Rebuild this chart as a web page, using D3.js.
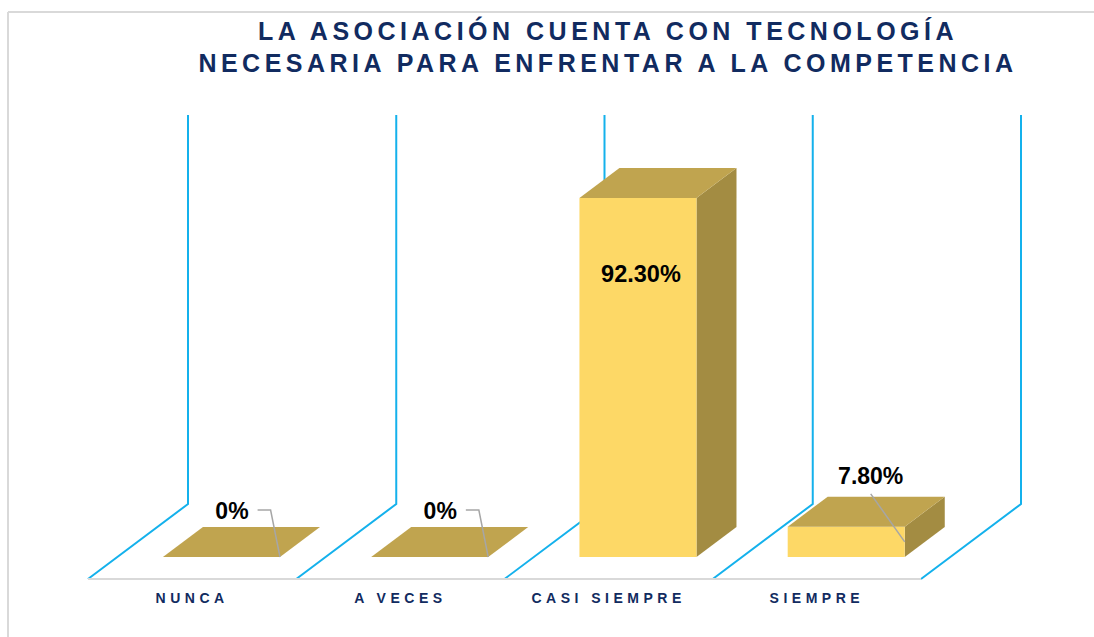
<!DOCTYPE html>
<html>
<head>
<meta charset="utf-8">
<script src="https://cdn.jsdelivr.net/npm/d3@7"></script>
<style>
  html, body { margin: 0; padding: 0; background: #ffffff; }
  svg { display: block; }
</style>
</head>
<body>
<svg id="chart" width="1094" height="637"></svg>
<script>
// ---------------- DATA ----------------
const titleLines = ["LA ASOCIACIÓN CUENTA CON TECNOLOGÍA", "NECESARIA PARA ENFRENTAR A LA COMPETENCIA"];
const categories = ["NUNCA", "A VECES", "CASI SIEMPRE", "SIEMPRE"];
const values = [0, 0, 92.3, 7.8];
const valueLabels = ["0%", "0%", "92.30%", "7.80%"];

// ---------------- LAYOUT / STYLE ----------------
const W = 1094, H = 637;
const backLeft = 188, backRight = 1021;  // back wall x extent
const backBase = 504, backTop = 115;     // back wall baseline and 100% line
const depthDX = -100, depthDY = 75;      // full floor depth offset (oblique)
const barFront = 53 / 75, barBack = 23 / 75; // bar depth fractions (0 = back wall, 1 = front edge)
const colFront = "#fdd866", colTop = "#c0a44f", colSide = "#a38c42";
const cyan = "#14b1ec", frameGray = "#d9d9d9", navy = "#112b60";
// label placement per bar: mode and offsets relative to anchor
const labelStyle = [
  { mode: "side", dx: -48, dy: -38 },
  { mode: "side", dx: -48, dy: -38 },
  { mode: "inside", dx: 0, dy: 84 },
  { mode: "above", dx: -34, dy: -58 }
];

const svg = d3.select("#chart");

// scales
const xGrid = d3.scaleBand().domain(categories).range([backLeft, backRight]).paddingInner(0).paddingOuter(0);
const xBar = d3.scaleBand().domain(categories).range([backLeft, backRight])
  .paddingInner(0.438).paddingOuter(0.219).align(0.5);
const y = d3.scaleLinear().domain([0, 100]).range([backBase, backTop]);

function proj(xb, v, f) { return [xb + depthDX * f, y(v) + depthDY * f]; }

// frame
svg.append("line").attr("x1", 8).attr("y1", 12).attr("x2", W).attr("y2", 12)
  .attr("stroke", frameGray).attr("stroke-width", 2);
svg.append("line").attr("x1", 8).attr("y1", 12).attr("x2", 8).attr("y2", H)
  .attr("stroke", frameGray).attr("stroke-width", 2);

// title
const title = svg.append("g");
titleLines.forEach((t, i) => {
  title.append("text")
    .attr("x", 606 + 2).attr("y", 40 + i * 32)
    .attr("text-anchor", "middle")
    .attr("font-family", "'Liberation Sans', Arial, sans-serif")
    .attr("font-weight", "bold").attr("font-size", 25)
    .attr("letter-spacing", 4.5)
    .attr("fill", navy).text(t);
});

// grid: vertical walls + floor diagonals
const bounds = categories.map(c => xGrid(c)).concat([xGrid(categories[categories.length - 1]) + xGrid.bandwidth()]);
const grid = svg.append("g");
bounds.forEach(xb => {
  const p0 = proj(xb, 100, 0), p1 = proj(xb, 0, 0), p2 = proj(xb, 0, 1);
  grid.append("path")
    .attr("d", d3.line()([p0, p1, p2]))
    .attr("fill", "none").attr("stroke", cyan).attr("stroke-width", 2);
});
// front floor edge
const fl = proj(bounds[0], 0, 1), fr = proj(bounds[bounds.length - 1], 0, 1);
svg.append("line").attr("x1", fl[0]).attr("y1", fl[1]).attr("x2", fr[0]).attr("y2", fr[1])
  .attr("stroke", frameGray).attr("stroke-width", 2);

// bars
const bars = svg.append("g");
categories.forEach((c, i) => {
  const v = values[i];
  const x0 = xBar(c), x1 = x0 + xBar.bandwidth();
  const fbl = proj(x0, 0, barFront), fbr = proj(x1, 0, barFront);
  const ftl = proj(x0, v, barFront), ftr = proj(x1, v, barFront);
  const btl = proj(x0, v, barBack), btr = proj(x1, v, barBack);
  const bbr = proj(x1, 0, barBack);
  if (v > 0) {
    bars.append("path").attr("d", d3.line()([fbr, ftr, btr, bbr]) + "Z").attr("fill", colSide);
    bars.append("path").attr("d", d3.line()([fbl, ftl, ftr, fbr]) + "Z").attr("fill", colFront);
  }
  bars.append("path").attr("d", d3.line()([ftl, ftr, btr, btl]) + "Z").attr("fill", colTop);
});

// value labels + leader lines
const labels = svg.append("g");
categories.forEach((c, i) => {
  const v = values[i];
  const x0 = xBar(c), x1 = x0 + xBar.bandwidth();
  const st = labelStyle[i];
  const fontSize = 23;
  if (st.mode === "inside") {
    const top = proj(x0, v, barFront);
    const cx = (proj(x0, v, barFront)[0] + proj(x1, v, barFront)[0]) / 2;
    labels.append("text").attr("x", cx + st.dx + 3).attr("y", top[1] + st.dy)
      .attr("text-anchor", "middle")
      .attr("font-family", "'Liberation Sans', Arial, sans-serif")
      .attr("font-weight", "bold").attr("font-size", 23.5)
      .attr("fill", "#000").text(valueLabels[i]);
    return;
  }
  const anchor = proj(x1, v / 2, barFront);
  const lx = anchor[0] + st.dx, ly = anchor[1] + st.dy;
  const t = labels.append("text").attr("x", lx).attr("y", ly)
    .attr("text-anchor", "middle")
    .attr("font-family", "'Liberation Sans', Arial, sans-serif")
    .attr("font-weight", "bold").attr("font-size", fontSize)
    .attr("fill", "#000").text(valueLabels[i]);
  const tw = t.node().getComputedTextLength();
  let pts;
  if (st.mode === "side") {
    const sx = lx + tw / 2 + 9, sy = ly - 9;
    pts = [[sx, sy], [sx + 13, sy], anchor];
  } else {
    pts = [[lx, ly + 10], anchor];
  }
  labels.insert("path", "text").attr("d", d3.line()(pts))
    .attr("fill", "none").attr("stroke", "#a6a6a6").attr("stroke-width", 1.5);
});

// category labels
const cats = svg.append("g");
categories.forEach(c => {
  const cx = xGrid(c) + xGrid.bandwidth() / 2 + depthDX;
  cats.append("text").attr("x", cx).attr("y", 603)
    .attr("text-anchor", "middle")
    .attr("font-family", "'Liberation Sans', Arial, sans-serif")
    .attr("font-weight", "bold").attr("font-size", 14)
    .attr("letter-spacing", 4.5)
    .attr("fill", navy).text(c);
});
</script>
</body>
</html>
